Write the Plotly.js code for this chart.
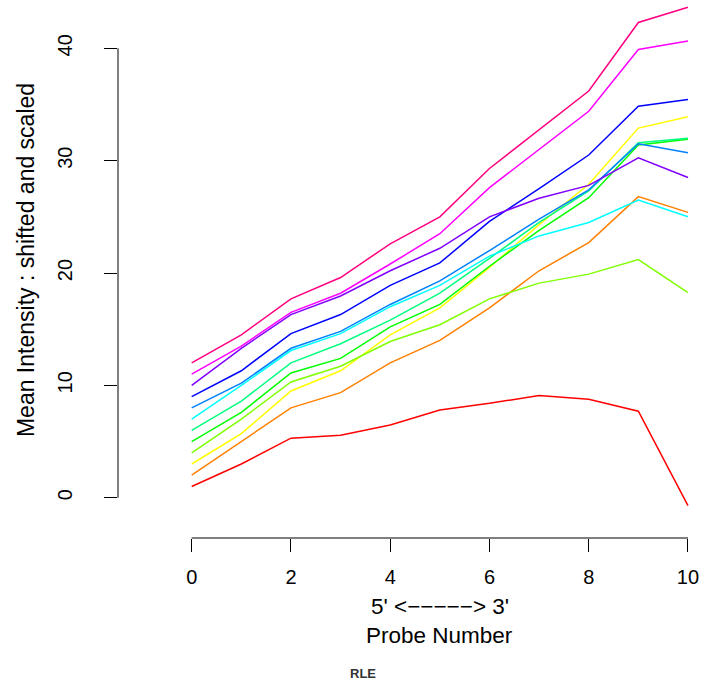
<!DOCTYPE html>
<html>
<head>
<meta charset="utf-8">
<script src="https://cdn.plot.ly/plotly-3.0.1.min.js"></script>
<style>
  html, body { margin: 0; padding: 0; background: #ffffff; }
  #chart { width: 706px; height: 685px; }
</style>
</head>
<body>
<div id="chart"></div>
<script>
// RNA degradation: mean probe intensity (shifted and scaled) along the 5'->3' direction
const probeNumber = [0, 1, 2, 3, 4, 5, 6, 7, 8, 9, 10];

const array01 = [1.0, 3.0, 5.3, 5.55, 6.47, 7.8, 8.4, 9.1, 8.76, 7.7, -0.7];
const array02 = [2.0, 5.0, 8.0, 9.35, 12.0, 14.0, 16.9, 20.2, 22.7, 26.8, 25.4];
const array03 = [3.0, 5.7, 9.5, 11.3, 14.5, 16.9, 20.5, 24.3, 27.9, 32.9, 33.9];
const array04 = [4.0, 7.0, 10.3, 11.7, 13.9, 15.4, 17.7, 19.1, 19.9, 21.2, 18.25];
const array05 = [5.0, 7.6, 11.1, 12.4, 15.2, 17.2, 20.6, 23.8, 26.7, 31.4, 31.9];
const array06 = [6.0, 8.6, 12.0, 13.7, 15.8, 18.2, 21.3, 24.5, 27.3, 31.6, 32.0];
const array07 = [7.0, 10.0, 13.1, 14.6, 17.0, 18.9, 21.5, 23.3, 24.5, 26.5, 25.0];
const array08 = [8.0, 10.2, 13.3, 14.8, 17.2, 19.3, 22.0, 24.8, 27.4, 31.5, 30.7];
const array09 = [9.0, 11.3, 14.6, 16.3, 18.9, 20.9, 24.6, 27.5, 30.5, 34.85, 35.45];
const array10 = [10.0, 13.3, 16.3, 17.95, 20.2, 22.2, 25.0, 26.65, 27.8, 30.25, 28.5];
const array11 = [11.0, 13.5, 16.5, 18.2, 20.8, 23.5, 27.6, 31.0, 34.4, 39.9, 40.65];
const array12 = [12.0, 14.5, 17.7, 19.6, 22.6, 25.0, 29.3, 32.75, 36.2, 42.3, 43.65];

const seriesValues = [array01, array02, array03, array04, array05, array06,
                      array07, array08, array09, array10, array11, array12];

// rainbow(12) palette
const lineColors = ['#FF0000', '#FF8000', '#FFFF00', '#80FF00', '#00FF00', '#00FF80',
                    '#00FFFF', '#0080FF', '#0000FF', '#8000FF', '#FF00FF', '#FF0080'];

const xTicks = [0, 2, 4, 6, 8, 10];
const yTicks = [0, 10, 20, 30, 40];

const fontFamily = 'Arial, "Liberation Sans", sans-serif';

const traces = seriesValues.map((vals, i) => ({
  x: probeNumber,
  y: vals,
  type: 'scatter',
  mode: 'lines',
  line: { color: lineColors[i], width: 1.5 },
  hoverinfo: 'x+y',
  showlegend: false
}));

const layout = {
  width: 706,
  height: 685,
  margin: { l: 118, r: 6, t: 0, b: 147 },
  paper_bgcolor: '#ffffff',
  plot_bgcolor: '#ffffff',
  showlegend: false,
  font: { family: fontFamily, size: 20, color: '#000000' },
  xaxis: {
    range: [-1.485, 10.242],
    tickvals: xTicks,
    ticktext: xTicks.map(String),
    ticks: 'outside',
    ticklen: 13,
    tickwidth: 1,
    tickcolor: '#000000',
    ticklabelstandoff: 8,
    showline: false,
    showgrid: false,
    zeroline: false,
    tickfont: { family: fontFamily, size: 20, color: '#000000' }
  },
  yaxis: {
    range: [-3.587, 44.3],
    tickvals: yTicks,
    ticktext: yTicks.map(String),
    ticks: 'outside',
    ticklen: 13,
    tickwidth: 1,
    tickcolor: '#000000',
    tickangle: -90,
    ticklabelstandoff: 24,
    showline: false,
    showgrid: false,
    zeroline: false,
    tickfont: { family: fontFamily, size: 20, color: '#000000' }
  },
  shapes: [
    // bottom axis line spanning the first to last tick
    { type: 'line', xref: 'x', yref: 'paper', x0: 0, x1: 10, y0: 0, y1: 0,
      line: { color: '#000000', width: 1 } },
    // left axis line spanning the first to last tick
    { type: 'line', xref: 'paper', yref: 'y', x0: 0, x1: 0, y0: 0, y1: 40,
      line: { color: '#000000', width: 1 } }
  ],
  annotations: [
    { text: "Mean Intensity : shifted and scaled", textangle: -90,
      xref: 'paper', yref: 'paper', x: -0.158, y: 0.5167,
      xanchor: 'center', yanchor: 'middle', showarrow: false,
      font: { family: fontFamily, size: 23, color: '#000000' } },
    { text: "5' <\u2212\u2212\u2212\u2212\u2212> 3'",
      xref: 'x', yref: 'paper', x: 5, y: (538 - 606) / 538,
      xanchor: 'center', yanchor: 'middle', showarrow: false,
      font: { family: fontFamily, size: 22.5, color: '#000000' } },
    { text: "Probe Number",
      xref: 'x', yref: 'paper', x: 5, y: (538 - 635) / 538,
      xanchor: 'center', yanchor: 'middle', showarrow: false,
      font: { family: fontFamily, size: 22.5, color: '#000000' } },
    { text: "<b>RLE</b>",
      xref: 'paper', yref: 'paper', x: (363 - 118) / 582, y: (538 - 673) / 538,
      xanchor: 'center', yanchor: 'middle', showarrow: false,
      font: { family: fontFamily, size: 13, color: '#333333' } }
  ]
};

Plotly.newPlot('chart', traces, layout, { displayModeBar: false, staticPlot: true });
</script>
</body>
</html>
